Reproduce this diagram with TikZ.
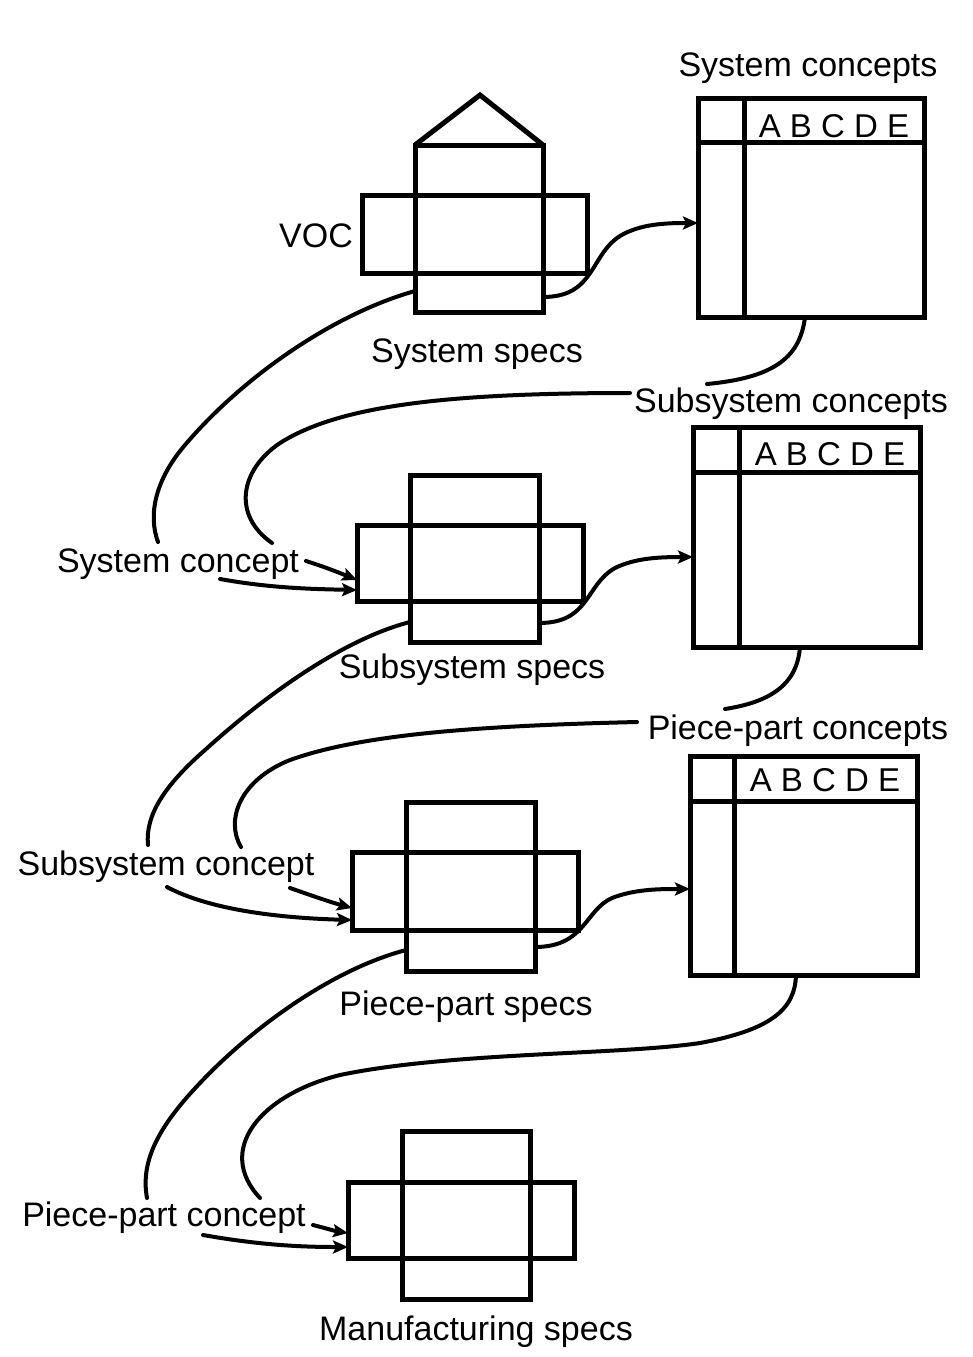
\documentclass[tikz,border=0pt]{standalone}
\usepackage{fontspec}
\setmainfont{Liberation Sans}
\usetikzlibrary{arrows.meta}
\begin{document}
\begin{tikzpicture}[x=1pt,y=-1pt,
  box/.style={draw,line width=5pt,inner sep=0pt,outer sep=0pt},
  frame/.style={line width=5pt},
  lbl/.style={font=\fontsize{34}{40}\selectfont,inner sep=0pt,anchor=base},
  hdr/.style={font=\fontsize{33}{40}\selectfont,inner sep=0pt,anchor=base},
  flow/.style={line width=4pt,line cap=round},
  arr/.style={flow,-{Stealth[length=15pt,width=13pt,inset=3pt]}}]
\useasboundingbox (0,0) rectangle (973,1357);

% ---------- stack 1 (System specs) ----------
\node[box,minimum width=128pt,minimum height=167pt] (v1) at (479,228.5) {};
\node[box,minimum width=225pt,minimum height=78pt] (h1) at (474.5,234) {};
\coordinate (apex) at (480,95);
\draw[frame,line join=miter] (v1.north west) -- (apex) -- (v1.north east);
\node[lbl] (voc) at (316,247) {VOC};
\node[lbl] (ss1) at (477,362) {System specs};

% ---------- stack 2 (Subsystem specs) ----------
\node[box,minimum width=129pt,minimum height=167pt] (v2) at (474.5,558.5) {};
\node[box,minimum width=226pt,minimum height=76pt] (h2) at (470,563) {};
\node[lbl] (ss2) at (472,678) {Subsystem specs};

% ---------- stack 3 (Piece-part specs) ----------
\node[box,minimum width=129pt,minimum height=169pt] (v3) at (470.5,886.5) {};
\node[box,minimum width=226pt,minimum height=78pt] (h3) at (465,891) {};
\node[lbl] (ss3) at (466,1015) {Piece-part specs};

% ---------- stack 4 (Manufacturing specs) ----------
\node[box,minimum width=128pt,minimum height=168pt] (v4) at (466,1215) {};
\node[box,minimum width=226pt,minimum height=76pt] (h4) at (461,1220) {};
\node[lbl] (ss4) at (476,1340) {Manufacturing specs};

% ---------- matrices ----------
\node[box,minimum width=226pt,minimum height=219pt] (m1) at (811,207.5) {};
\draw[frame] ([yshift=-44pt]m1.north west) -- ([yshift=-44pt]m1.north east);
\draw[frame] ([xshift=46pt]m1.north west) -- ([xshift=46pt]m1.south west);
\node[hdr] (abc1) at (834,137) {A B C D E};
\node[lbl] (sc1) at (808,76) {System concepts};

\node[box,minimum width=227pt,minimum height=220pt] (m2) at (806.5,537) {};
\draw[frame] ([yshift=-45pt]m2.north west) -- ([yshift=-45pt]m2.north east);
\draw[frame] ([xshift=46pt]m2.north west) -- ([xshift=46pt]m2.south west);
\node[hdr] (abc2) at (830,465) {A B C D E};
\node[lbl] (sc2) at (791,412) {Subsystem concepts};

\node[box,minimum width=227pt,minimum height=219pt] (m3) at (803.5,865.5) {};
\draw[frame] ([yshift=-45pt]m3.north west) -- ([yshift=-45pt]m3.north east);
\draw[frame] ([xshift=44pt]m3.north west) -- ([xshift=44pt]m3.south west);
\node[hdr] (abc3) at (825,791) {A B C D E};
\node[lbl] (sc3) at (798,739) {Piece-part concepts};

% ---------- concept labels on the left ----------
\node[lbl] (lc1) at (178,572) {System concept};
\node[lbl] (lc2) at (166,875) {Subsystem concept};
\node[lbl] (lc3) at (164,1226) {Piece-part concept};

% free ends
\coordinate (b1e) at (707,384);
\coordinate (c1s) at (630,393);
\coordinate (c1e) at (272,543);
\coordinate (d1e) at (158,542);
\coordinate (e1a) at (306,561);
\coordinate (e1b) at (220,579);
\coordinate (b2e) at (725,709);
\coordinate (c2s) at (637,722);
\coordinate (c2e) at (241,847);
\coordinate (d2e) at (148,845);
\coordinate (e2a) at (290,888);
\coordinate (e2b) at (167,887);
\coordinate (b3e) at (260,1198);
\coordinate (d3e) at (147,1198);
\coordinate (e3a) at (313,1225);
\coordinate (e3b) at (203,1235);

% ---------- connectors level 1 ----------
\draw[arr] ([yshift=15pt]v1.south east) .. controls (595,297) and (590,255) .. (620,236)
  .. controls (640,224) and (665,223) .. ([yshift=-15.5pt]m1.west);
\draw[flow] ([xshift=-6pt]m1.south) .. controls (800,360) and (770,378) .. (b1e);
\draw[flow] (c1s) .. controls (450,393) and (340,405) .. (280,443)
  .. controls (240,470) and (232,515) .. (c1e);
\draw[flow] ([yshift=21pt]v1.south west) .. controls (330,315) and (240,380) .. (185,445)
  .. controls (155,480) and (148,515) .. (d1e);
\draw[arr] (e1a) .. controls (325,567) and (340,573) .. ([yshift=21pt]h2.south west);
\draw[arr] (e1b) .. controls (270,588) and (310,589) .. ([yshift=11pt]h2.south west);

% ---------- connectors level 2 ----------
\draw[arr] ([yshift=19pt]v2.south east) .. controls (590,623) and (585,585) .. (615,568)
  .. controls (635,558) and (660,557) .. ([yshift=-20pt]m2.west);
\draw[flow] ([xshift=-6.5pt]m2.south) .. controls (797,685) and (770,702) .. (b2e);
\draw[flow] (c2s) .. controls (470,726) and (360,735) .. (290,760)
  .. controls (240,780) and (225,820) .. (c2e);
\draw[flow] ([yshift=20pt]v2.south west) .. controls (340,640) and (260,700) .. (205,750)
  .. controls (165,785) and (145,815) .. (d2e);
\draw[arr] (e2a) .. controls (310,895) and (330,902) .. ([yshift=22pt]h3.south west);
\draw[arr] (e2b) .. controls (210,910) and (280,918) .. ([yshift=10pt]h3.south west);

% ---------- connectors level 3 ----------
\draw[arr] ([yshift=24pt]v3.south east) .. controls (585,947) and (585,910) .. (612,898)
  .. controls (635,889) and (660,889) .. ([yshift=-23.5pt]m3.west);
\draw[flow] ([xshift=-7.5pt]m3.south) .. controls (795,1010) and (770,1030) .. (700,1043)
  .. controls (620,1055) and (450,1052) .. (340,1075)
  .. controls (260,1095) and (215,1150) .. (b3e);
\draw[flow] ([yshift=21pt]v3.south west) .. controls (330,970) and (250,1030) .. (200,1083)
  .. controls (160,1125) and (140,1160) .. (d3e);
\draw[arr] (e3a) .. controls (325,1228) and (335,1231) .. ([yshift=25pt]h4.south west);
\draw[arr] (e3b) .. controls (260,1245) and (300,1247) .. ([yshift=11pt]h4.south west);
\end{tikzpicture}
\end{document}
